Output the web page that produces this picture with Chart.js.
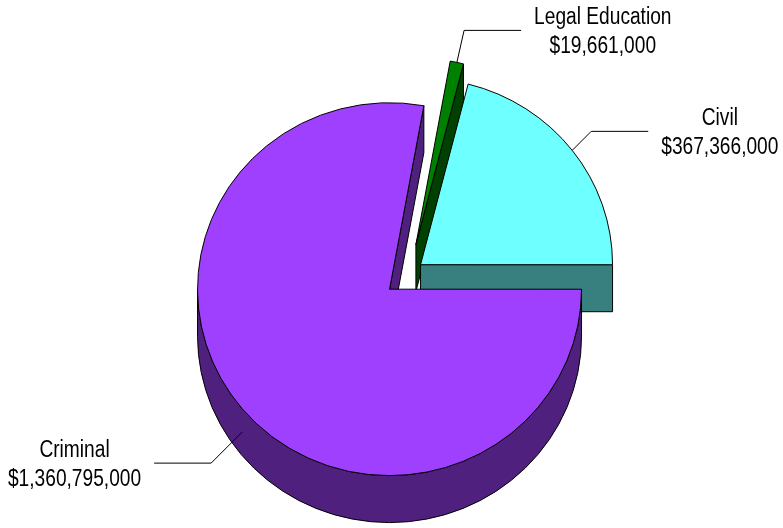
<!DOCTYPE html>
<html>
<head>
<meta charset="utf-8">
<script src="https://cdn.jsdelivr.net/npm/chart.js@4"></script>
<style>
  body { margin: 0; background: #fff; }
  #wrap { width: 783px; height: 528px; }
</style>
</head>
<body>
<div id="wrap"><canvas id="pieChart"></canvas></div>
<script>
// data
const categories = ["Legal Education", "Civil", "Criminal"];
const amounts = [19661000, 367366000, 1360795000];

// styles
const topColors = ["#008000", "#6EFFFF", "#A040FF"];
const sideColors = ["#004000", "#388080", "#50207F"];
const explode = [30, 14, 26];     // px pulled out along each slice's middle
const leaderRise = [32, 19, 31];  // vertical part of each leader line
const depth = 47;                 // thickness of the 3d pie
const squash = 0.971;             // slight tilt of the top face

const fmt = v => "$" + v.toLocaleString("en-US");

// draws the sides of every slice, then its top (the library's arc)
const pie3d = {
  id: "pie3d",
  beforeDatasetDraw(chart, args) {
    const ctx = chart.ctx;
    const d = depth / squash;
    args.meta.data.forEach((arc, i) => {
      const { x, y, startAngle, endAngle, outerRadius: r } = arc;
      const mid = (startAngle + endAngle) / 2;
      ctx.save();
      ctx.translate(x, y);
      ctx.scale(1, squash);
      ctx.translate(-x, -y);
      ctx.translate(Math.cos(mid) * explode[i], Math.sin(mid) * explode[i]);
      ctx.fillStyle = sideColors[i];
      ctx.strokeStyle = "#000";
      ctx.lineWidth = 1;
      ctx.lineJoin = "round";

      // flat faces along the two cut edges, only those facing the viewer
      [[startAngle, -1], [endAngle, 1]].forEach(([a, s]) => {
        if (Math.sin(a + s * Math.PI / 2) <= 0) return;
        const ex = x + Math.cos(a) * r, ey = y + Math.sin(a) * r;
        ctx.beginPath();
        ctx.moveTo(x, y);
        ctx.lineTo(ex, ey);
        ctx.lineTo(ex, ey + d);
        ctx.lineTo(x, y + d);
        ctx.closePath();
        ctx.fill();
        ctx.stroke();
      });

      // curved outer wall on the front half
      for (let k = -1; k <= 2; k++) {
        const lo = Math.max(startAngle, 2 * Math.PI * k);
        const hi = Math.min(endAngle, 2 * Math.PI * k + Math.PI);
        if (hi - lo < 0.001) continue;
        ctx.beginPath();
        ctx.arc(x, y, r, lo, hi);
        ctx.lineTo(x + Math.cos(hi) * r, y + Math.sin(hi) * r + d);
        ctx.arc(x, y + d, r, hi, lo, true);
        ctx.closePath();
        ctx.fill();
        ctx.stroke();
      }

      arc.draw(ctx);
      ctx.restore();
    });
    return false;
  }
};

// category + amount labels with elbow leader lines
const sliceLabels = {
  id: "sliceLabels",
  afterDraw(chart) {
    const ctx = chart.ctx;
    const meta = chart.getDatasetMeta(0);
    const fontPx = 23, narrow = 0.833, lineGap = 29, hLen = 57, gap = 13;
    ctx.save();
    ctx.font = fontPx + "px 'Liberation Sans', Arial, sans-serif";
    meta.data.forEach((arc, i) => {
      const { x, y, startAngle, endAngle, outerRadius: r } = arc;
      const mid = (startAngle + endAngle) / 2;
      const dirx = Math.cos(mid), diry = Math.sin(mid) * squash;
      let sx = x + dirx * (r + explode[i]);
      let sy = y + diry * (r + explode[i]);
      if (diry > 0) sy += depth / 2;
      const side = Math.sign(dirx);
      const rise = leaderRise[i];
      const ey = sy + Math.sign(diry) * rise;
      const ex = sx + side * rise * Math.min(1, Math.abs(dirx / diry));
      const hx = ex + side * hLen;

      ctx.strokeStyle = "#000";
      ctx.lineWidth = 1;
      ctx.beginPath();
      ctx.moveTo(sx, sy);
      ctx.lineTo(ex, ey);
      ctx.lineTo(hx, ey);
      ctx.stroke();

      const lines = [categories[i], fmt(amounts[i])];
      const w = Math.max(...lines.map(t => ctx.measureText(t).width)) * narrow;
      const cx = hx + side * (gap + w / 2);
      ctx.fillStyle = "#000";
      ctx.textAlign = "center";
      ctx.textBaseline = "alphabetic";
      lines.forEach((t, j) => {
        ctx.save();
        ctx.translate(cx, ey - 6 + j * lineGap);
        ctx.scale(narrow, 1);
        ctx.fillText(t, 0, 0);
        ctx.restore();
      });
    });
    ctx.restore();
  }
};

new Chart(document.getElementById("pieChart"), {
  type: "pie",
  data: {
    labels: categories,
    datasets: [{
      data: amounts,
      backgroundColor: topColors,
      borderColor: "#000",
      borderWidth: 1
    }]
  },
  options: {
    responsive: true,
    maintainAspectRatio: false,
    animation: false,
    events: [],
    radius: 192,
    rotation: 10.3,
    layout: { padding: { left: 36, top: 18 } },
    plugins: {
      legend: { display: false },
      tooltip: { enabled: false }
    }
  },
  plugins: [pie3d, sliceLabels]
});
</script>
</body>
</html>
